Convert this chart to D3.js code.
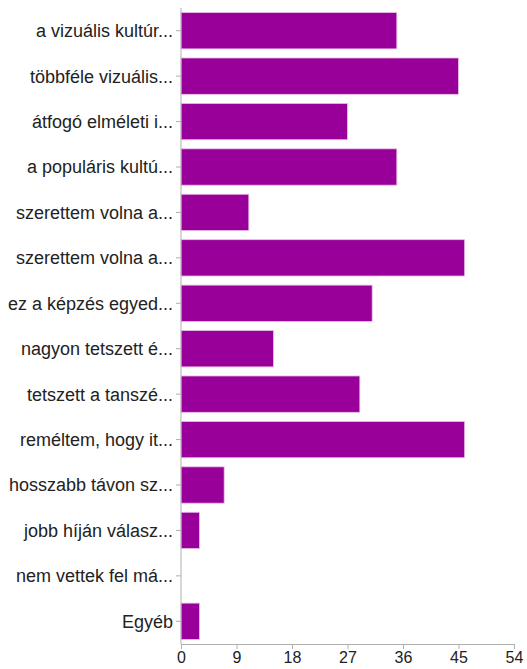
<!DOCTYPE html>
<html>
<head>
<meta charset="utf-8">
<script src="https://cdn.jsdelivr.net/npm/d3@7"></script>
<style>
  body { margin: 0; background: #fff; }
  text { font-family: "Liberation Sans", Arial, sans-serif; }
</style>
</head>
<body>
<svg id="chart" width="527" height="669"></svg>
<script>
// DATA
var categories = [
  "a vizuális kultúr...",
  "többféle vizuális...",
  "átfogó elméleti i...",
  "a populáris kultú...",
  "szerettem volna a...",
  "szerettem volna a...",
  "ez a képzés egyed...",
  "nagyon tetszett é...",
  "tetszett a tanszé...",
  "reméltem, hogy it...",
  "hosszabb távon sz...",
  "jobb híján válasz...",
  "nem vettek fel má...",
  "Egyéb"
];
var counts = [35, 45, 27, 35, 11, 46, 31, 15, 29, 46, 7, 3, 0, 3];
var xTicks = [0, 9, 18, 27, 36, 45, 54];

// LAYOUT
var plotLeft = 181, plotRight = 514, plotTop = 8, plotBottom = 644;
var svg = d3.select("#chart");

var x = d3.scaleLinear().domain([0, 54]).range([plotLeft, plotRight]);
var y = d3.scaleBand()
  .domain(d3.range(categories.length))
  .range([plotTop, plotBottom])
  .paddingInner(0.2)
  .paddingOuter(0.1);

// bars
svg.selectAll("rect.bar")
  .data(counts)
  .enter()
  .append("rect")
  .attr("class", "bar")
  .attr("x", x(0))
  .attr("y", function(d, i){ return y(i); })
  .attr("width", function(d){ return x(d) - x(0); })
  .attr("height", y.bandwidth())
  .attr("fill", "#990099")
  .attr("stroke", function(d){ return d > 0 ? "#e8c2e8" : "none"; })
  .attr("stroke-width", 0.8);

// y axis
var yAxis = d3.axisLeft(y)
  .tickFormat(function(i){ return categories[i]; })
  .tickSize(5)
  .tickPadding(3)
  .tickSizeOuter(0);
var gy = svg.append("g")
  .attr("transform", "translate(" + plotLeft + ",0)")
  .call(yAxis);
gy.select(".domain").attr("stroke", "#b0b0b0").attr("d", "M0," + plotTop + "V" + plotBottom);
gy.selectAll(".tick line").attr("stroke", "#b0b0b0");
gy.selectAll(".tick text").attr("fill", "#222").attr("dy", "0.36em").style("font-size", "18px");

// x axis
var xAxis = d3.axisBottom(x)
  .tickValues(xTicks)
  .tickSize(5)
  .tickPadding(3)
  .tickSizeOuter(0);
var gx = svg.append("g")
  .attr("transform", "translate(0," + plotBottom + ")")
  .call(xAxis);
gx.select(".domain").attr("stroke", "#b0b0b0");
gx.selectAll(".tick line").attr("stroke", "#b0b0b0");
gx.selectAll(".tick text").attr("fill", "#222").style("font-size", "16px");
</script>
</body>
</html>
